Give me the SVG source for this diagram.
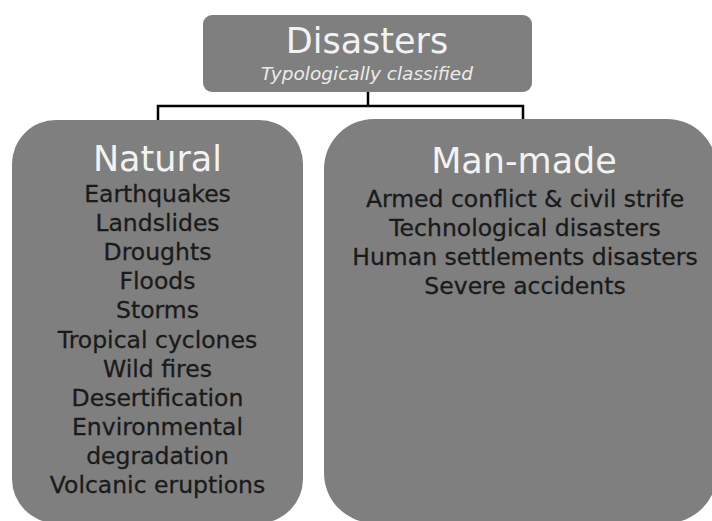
<svg xmlns="http://www.w3.org/2000/svg" width="712" height="521" viewBox="0 0 712 521">
<style>
.box{fill:#7f7f7f}
.head{font-family:"DejaVu Sans",Verdana,sans-serif;font-size:35px;fill:#f2f2f2;text-anchor:middle}
.sub{font-family:"DejaVu Sans",Verdana,sans-serif;font-size:18.5px;font-style:italic;fill:#ececec;text-anchor:middle}
.item{font-family:"DejaVu Sans",Verdana,sans-serif;font-size:23.5px;fill:#1a1a1a;stroke:#1a1a1a;stroke-width:0.3;text-anchor:middle}
.conn{fill:none;stroke:#000;stroke-width:2.5}
</style>
<rect width="712" height="521" fill="#fff"/>
<g id="connectors">
<polyline class="conn" points="368,92 368,106"/>
<polyline class="conn" points="158,121 158,106 523,106 523,121"/>
</g>
<g id="disasters">
<rect class="box" x="203" y="15" width="329" height="77" rx="9"/>
<text class="head" x="367" y="53">Disasters</text>
<text class="sub" x="367" y="80">Typologically classified</text>
</g>
<g id="natural">
<rect class="box" x="12" y="120" width="291" height="403" rx="44"/>
<text class="head" x="157.5" y="171">Natural</text>
<text class="item" x="157.5" y="202">Earthquakes</text>
<text class="item" x="157.5" y="231.1">Landslides</text>
<text class="item" x="157.5" y="260.2">Droughts</text>
<text class="item" x="157.5" y="289.3">Floods</text>
<text class="item" x="157.5" y="318.4">Storms</text>
<text class="item" x="157.5" y="347.5">Tropical cyclones</text>
<text class="item" x="157.5" y="376.6">Wild fires</text>
<text class="item" x="157.5" y="405.7">Desertification</text>
<text class="item" x="157.5" y="434.8">Environmental</text>
<text class="item" x="157.5" y="463.9">degradation</text>
<text class="item" x="157.5" y="493">Volcanic eruptions</text>
</g>
<g id="man-made">
<rect class="box" x="324" y="119" width="393" height="404" rx="50"/>
<text class="head" x="524" y="173">Man-made</text>
<text class="item" x="525" y="207">Armed conflict &amp; civil strife</text>
<text class="item" x="525" y="236">Technological disasters</text>
<text class="item" x="525" y="265">Human settlements disasters</text>
<text class="item" x="525" y="294">Severe accidents</text>
</g>
</svg>
